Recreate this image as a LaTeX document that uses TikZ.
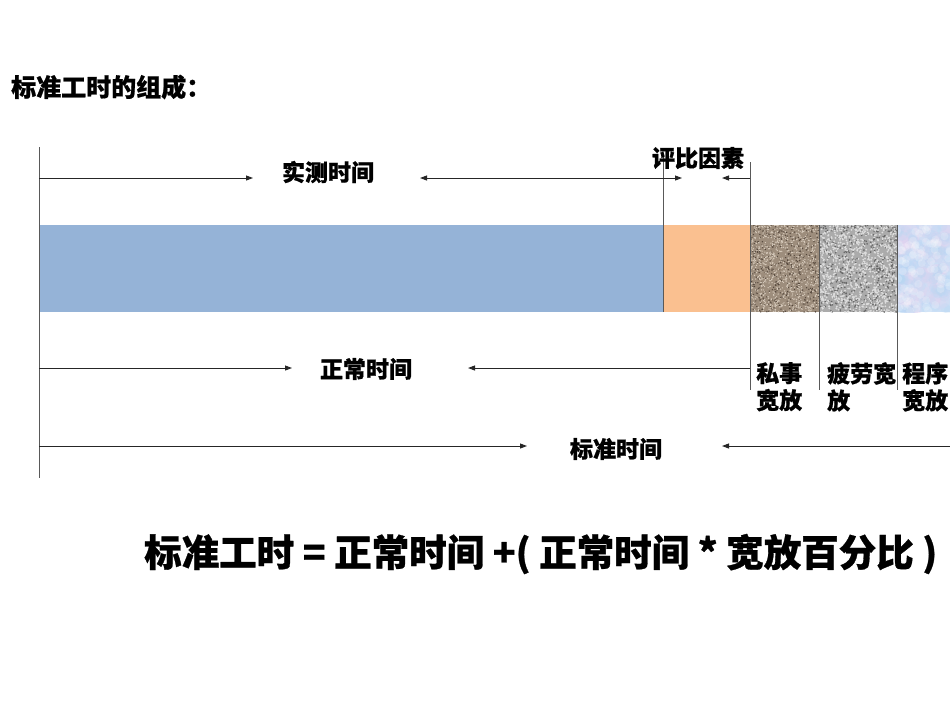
\documentclass[tikz,border=0pt]{standalone}
\usepackage{fontspec}
\newfontfamily\cjk{Noto Sans CJK SC}[BoldFeatures={FakeBold=0.8}]
\usetikzlibrary{arrows.meta}
\definecolor{barblue}{HTML}{95B3D7}
\definecolor{barorange}{HTML}{FAC090}
\definecolor{brbase}{HTML}{9D8D7C}
\definecolor{brdark}{HTML}{54473C}
\definecolor{brlight}{HTML}{D6CABB}
\definecolor{grbase}{HTML}{ABABAB}
\definecolor{grdark}{HTML}{666666}
\definecolor{grlight}{HTML}{DDDDDD}
\definecolor{lbbase}{HTML}{CCE0F6}
\definecolor{lbpink}{HTML}{E6D3F0}
\definecolor{lblight}{HTML}{B5D6F4}
\begin{document}
\begin{tikzpicture}[x=1pt,y=-1pt,
  lbl/.style={font=\cjk\bfseries\fontsize{23}{27}\selectfont, inner sep=0pt},
  small/.style={font=\cjk\bfseries\fontsize{23}{27}\selectfont, inner sep=0pt, align=left, anchor=north west},
  dim/.style={draw=black!85, line width=0.9pt},
  vline/.style={draw=black!65, line width=0.9pt},
  tip/.style={-{Triangle[length=7pt,width=5pt]}}]
\useasboundingbox (0,0) rectangle (950,713);
\fill[white] (0,0) rectangle (950,713);
% title
\node[font=\cjk\bfseries\fontsize{25}{29}\selectfont, inner sep=0pt, anchor=west] (title) at (11,87) {标准工时的组成：};
% bar
\fill[barblue] (39,225) rectangle (663,312);
\fill[barorange] (663,225) rectangle (750,312);
\pgfmathsetseed{7}
\begin{scope}
  \clip (750,225) rectangle (819,312);
  \fill[brbase] (750,225) rectangle (819,312);
  \foreach \i in {1,...,500} {\fill[brdark] (750+69*rnd, 225+87*rnd) circle (0.7pt);}
  \foreach \i in {1,...,900} {\fill[brlight] (750+69*rnd, 225+87*rnd) circle (0.7pt);}
\end{scope}
\begin{scope}
  \clip (819,225) rectangle (897,312);
  \fill[grbase] (819,225) rectangle (897,312);
  \foreach \i in {1,...,450} {\fill[grdark] (819+78*rnd, 225+87*rnd) circle (0.9pt);}
  \foreach \i in {1,...,900} {\fill[grlight] (819+78*rnd, 225+87*rnd) circle (1pt);}
\end{scope}
\begin{scope}
  \clip (897,225) rectangle (950,312);
  \fill[lbbase] (897,225) rectangle (950,312);
  \foreach \i in {1,...,120} {\fill[lbpink, opacity=0.2] (897+53*rnd, 225+87*rnd) circle (6pt);}
  \foreach \i in {1,...,120} {\fill[lblight, opacity=0.2] (897+53*rnd, 225+87*rnd) circle (5pt);}
  \foreach \i in {1,...,80} {\fill[white, opacity=0.2] (897+53*rnd, 225+87*rnd) circle (4pt);}
\end{scope}
% vertical lines
\draw[vline] (39,147) -- (39,478);
\draw[vline] (663,153) -- (663,312);
\draw[vline] (750,162) -- (750,390);
\draw[vline] (819,225) -- (819,390);
\draw[vline] (897,225) -- (897,390);
% coordinates
\coordinate (a0) at (39,178);
\coordinate (a1) at (253,178);
\coordinate (a2) at (420,178);
\coordinate (a3) at (663,178);
\coordinate (a4) at (682,178);
\coordinate (a5) at (750,178);
\coordinate (a6) at (722,178);
\coordinate (b0) at (39,368);
\coordinate (b1) at (292,368);
\coordinate (b2) at (468,368);
\coordinate (b3) at (750,368);
\coordinate (c0) at (39,446);
\coordinate (c1) at (527,446);
\coordinate (c2) at (722,446);
\coordinate (c3) at (950,446);
% labels
\node[lbl] (shice) at (328,172) {实测时间};
\node[lbl] (pingbi) at (698,158) {评比因素};
\node[lbl] (zhengchang) at (366,369) {正常时间};
\node[lbl] (biaozhun) at (616,449) {标准时间};
\node[small] (sishi) at (756,362) {私事\\宽放};
\node[small] (pilao) at (827,362) {疲劳宽\\放};
\node[small] (chengxu) at (902,362) {程序\\宽放};
% dimension arrows
\draw[dim,tip] (a0) -- (a1);
\draw[dim,tip] (a3) -- (a2);
\draw[dim,tip] (a3) -- (a4);
\draw[dim,tip] (a5) -- (a6);
\draw[dim,tip] (b0) -- (b1);
\draw[dim,tip] (b3) -- (b2);
\draw[dim,tip] (c0) -- (c1);
\draw[dim,tip] (c3) -- (c2);
% formula
\node[font=\cjk\bfseries\fontsize{37.5}{43}\selectfont, inner sep=0pt, anchor=west] (formula) at (144,554) {标准工时 = 正常时间 +( 正常时间 * 宽放百分比 )};
\end{tikzpicture}
\end{document}
